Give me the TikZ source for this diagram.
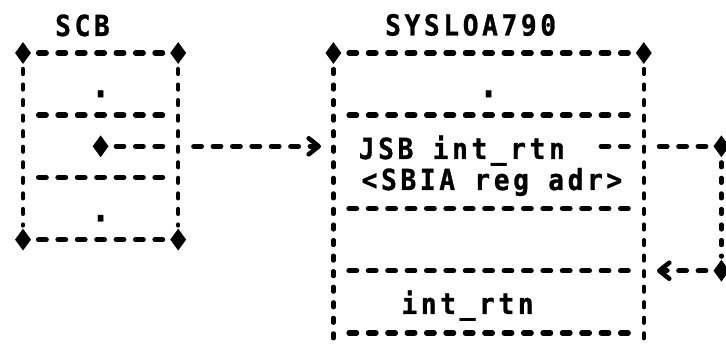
\documentclass[tikz,border=0pt]{standalone}
\usepackage{fontspec}
\newfontfamily\pf{DejaVu Sans Mono}[LetterSpace=12.7,FakeStretch=0.9,FakeBold=1]
\usetikzlibrary{shapes.geometric,arrows.meta}
\tikzset{
  txt/.style={inner sep=0pt, anchor=base west, font=\pf\bfseries\fontsize{29}{29}\selectfont},
  dotx/.style={inner sep=0pt, anchor=base, font=\pf\bfseries\fontsize{36}{36}\selectfont},
  hd/.style={line width=5.4pt, line cap=round, dash pattern=on 7.5pt off 11.9pt, shorten <=15.65pt, shorten >=15.65pt},
  vd/.style={line width=4.2pt, line cap=round, dash pattern=on 5pt off 10.55pt, shorten <=16pt, shorten >=14pt},
  crn/.style={shape=diamond, fill=black, draw=none, inner sep=0pt, minimum width=16pt, minimum height=22pt},
  tip/.style={shorten >=0pt, -{Straight Barb[length=10pt,width=16pt,line width=4.6pt,round]}}
}
\begin{document}
\begin{tikzpicture}[x=19.4pt, y=-31.1pt]
\useasboundingbox (-1.185567,-1.704180) rectangle (36.237113,9.453376);
% headers
\node[txt] (scbT) at (1.649,-0.547) {SCB};
\node[txt] (sysT) at (18.66,-0.563) {SYSLOA790};
% SCB box
\node[crn] (scbA) at (0,0) {};
\node[crn] (scbB) at (8,0) {};
\node[crn] (scbC) at (0,6) {};
\node[crn] (scbD) at (8,6) {};
\draw[hd] (scbA.center) -- (scbB.center);
\draw[hd] (scbC.center) -- (scbD.center);
\draw[hd] (0,2) -- (8,2);
\draw[hd] (0,4) -- (8,4);
\draw[vd] (scbA.center) -- (scbC.center);
\draw[vd] (scbB.center) -- (scbD.center);
\node[dotx] (scbd1) at (4,1.418) {.};
\node[dotx] (scbd2) at (4,5.418) {.};
\node[crn] (scbP) at (4,3) {};
\coordinate (scbE) at (8,3);
% SYSLOA790 box
\node[crn] (sysA) at (16,0) {};
\node[crn] (sysB) at (32,0) {};
\draw[hd] (sysA.center) -- (sysB.center);
\draw[hd] (16,2) -- (32,2);
\draw[hd] (16,5) -- (32,5);
\draw[hd] (16,7) -- (32,7);
\draw[hd] (16,9) -- (32,9);
\draw[vd] (sysA.center) -- (16,9.8);
\draw[vd] (sysB.center) -- (32,9.8);
\node[dotx] (sysd1) at (24,1.418) {.};
\node[txt] (jsb) at (17.3,3.408) {JSB int\_rtn};
\node[txt] (sbia) at (17.45,4.405) {<SBIA reg adr>};
\node[txt] (irt) at (19.5,8.392) {int\_rtn};
\coordinate (sysE) at (32,3);
\coordinate (jsbT) at (29,3);
% connectors
\coordinate (arrT) at (15.36,3);
\draw[hd] (scbP.center) -- (scbE);
\draw[hd,tip] (scbE) -- (arrT);
\node[crn] (lpA) at (36,3) {};
\node[crn] (lpB) at (36,7) {};
\coordinate (lpT) at (32.68,7);
\draw[hd] (jsbT) -- (sysE);
\draw[hd] (sysE) -- (lpA.center);
\draw[vd] (lpA.center) -- (lpB.center);
\draw[hd,tip] (lpB.center) -- (lpT);
\end{tikzpicture}
\end{document}
